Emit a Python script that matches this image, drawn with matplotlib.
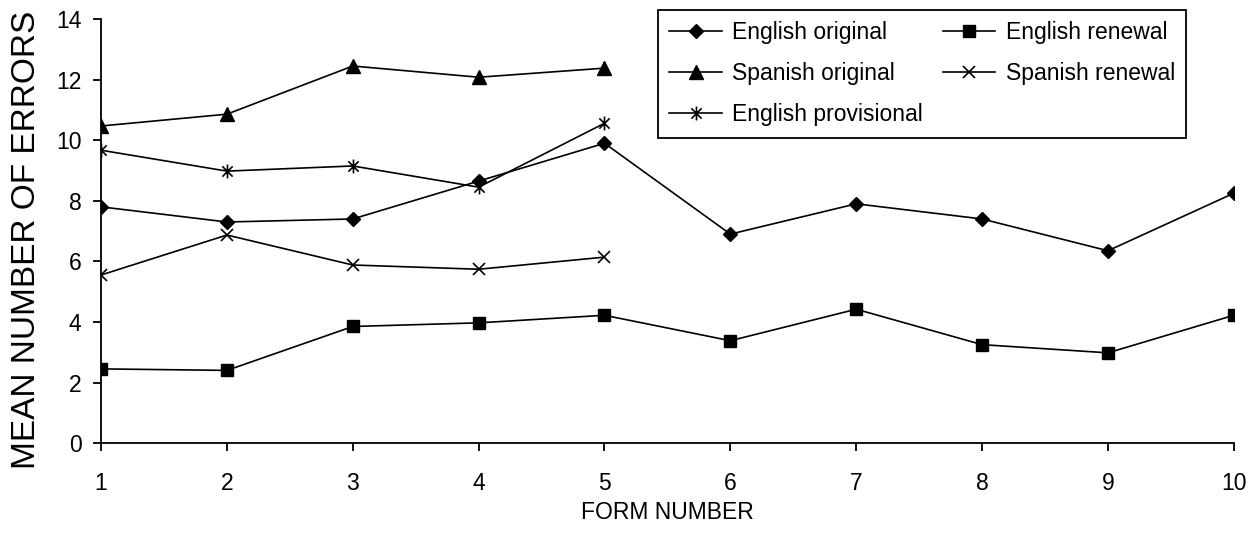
import matplotlib
matplotlib.use("Agg")
import matplotlib.pyplot as plt
from matplotlib.path import Path

plt.rcParams['font.family'] = ['Liberation Sans', 'DejaVu Sans']

# dados
forms = [1, 2, 3, 4, 5, 6, 7, 8, 9, 10]
forms_5 = [1, 2, 3, 4, 5]
eng_original = [7.8, 7.3, 7.4, 8.65, 9.9, 6.9, 7.9, 7.4, 6.35, 8.25]
eng_renewal = [2.45, 2.4, 3.85, 3.97, 4.22, 3.38, 4.42, 3.25, 2.98, 4.22]
spa_original = [10.47, 10.86, 12.45, 12.08, 12.38]
spa_renewal = [5.55, 6.87, 5.88, 5.74, 6.14]
eng_provisional = [9.67, 8.98, 9.15, 8.45, 10.56]

# marcador asterisco (x com barra vertical)
ast = Path([(-1, -1), (1, 1), (-1, 1), (1, -1), (0, -1.35), (0, 1.35)],
           [Path.MOVETO, Path.LINETO, Path.MOVETO, Path.LINETO, Path.MOVETO, Path.LINETO])

fig = plt.figure(figsize=[12.6, 5.45], dpi=100)
ax = fig.add_axes([0.0802, 0.187, 0.899, 0.778])

lw = 1.2
l1, = ax.plot(forms, eng_original, 'k-', marker='D', markersize=7.5, lw=lw, label='English original')
l2, = ax.plot(forms, eng_renewal, 'k-', marker='s', markersize=9, lw=lw, label='English renewal')
l3, = ax.plot(forms_5, spa_original, 'k-', marker='^', markersize=10, lw=lw, label='Spanish original')
l4, = ax.plot(forms_5, spa_renewal, 'k-', marker='x', markersize=9, mew=1.2, lw=lw, label='Spanish renewal')
l5, = ax.plot(forms_5, eng_provisional, 'k-', marker=ast, markersize=10, mew=1.2, lw=lw, label='English provisional')

ax.set_xlim(1, 10)
ax.set_ylim(0, 14)
ax.set_xticks(forms)
ax.set_yticks(range(0, 15, 2))
ax.spines['top'].set_visible(False)
ax.spines['right'].set_visible(False)
ax.spines['left'].set_linewidth(1.3)
ax.spines['bottom'].set_linewidth(1.3)
ax.tick_params(direction='out', length=6, width=1.3, labelsize=16.5)
ax.tick_params(axis='x', pad=15)
ax.tick_params(axis='y', pad=8)

ax.set_xlabel("FORM NUMBER", fontsize=16.5, labelpad=4)
ax.set_ylabel("MEAN NUMBER OF ERRORS", fontsize=24, labelpad=12)
ax.yaxis.set_label_coords(-0.0525, 0.48)

leg = fig.legend(handles=[l1, l3, l5, l2, l4], ncol=2, loc='upper left',
                 bbox_to_anchor=(658 / 1260, 1 - 10 / 545), fontsize=16.5,
                 fancybox=False, framealpha=1, edgecolor='k', handlelength=2.3,
                 handletextpad=0.45, columnspacing=0.85, labelspacing=0.78,
                 borderpad=0.5, borderaxespad=0)
leg.get_frame().set_linewidth(1.3)

fig.savefig('out.png', dpi=100)
